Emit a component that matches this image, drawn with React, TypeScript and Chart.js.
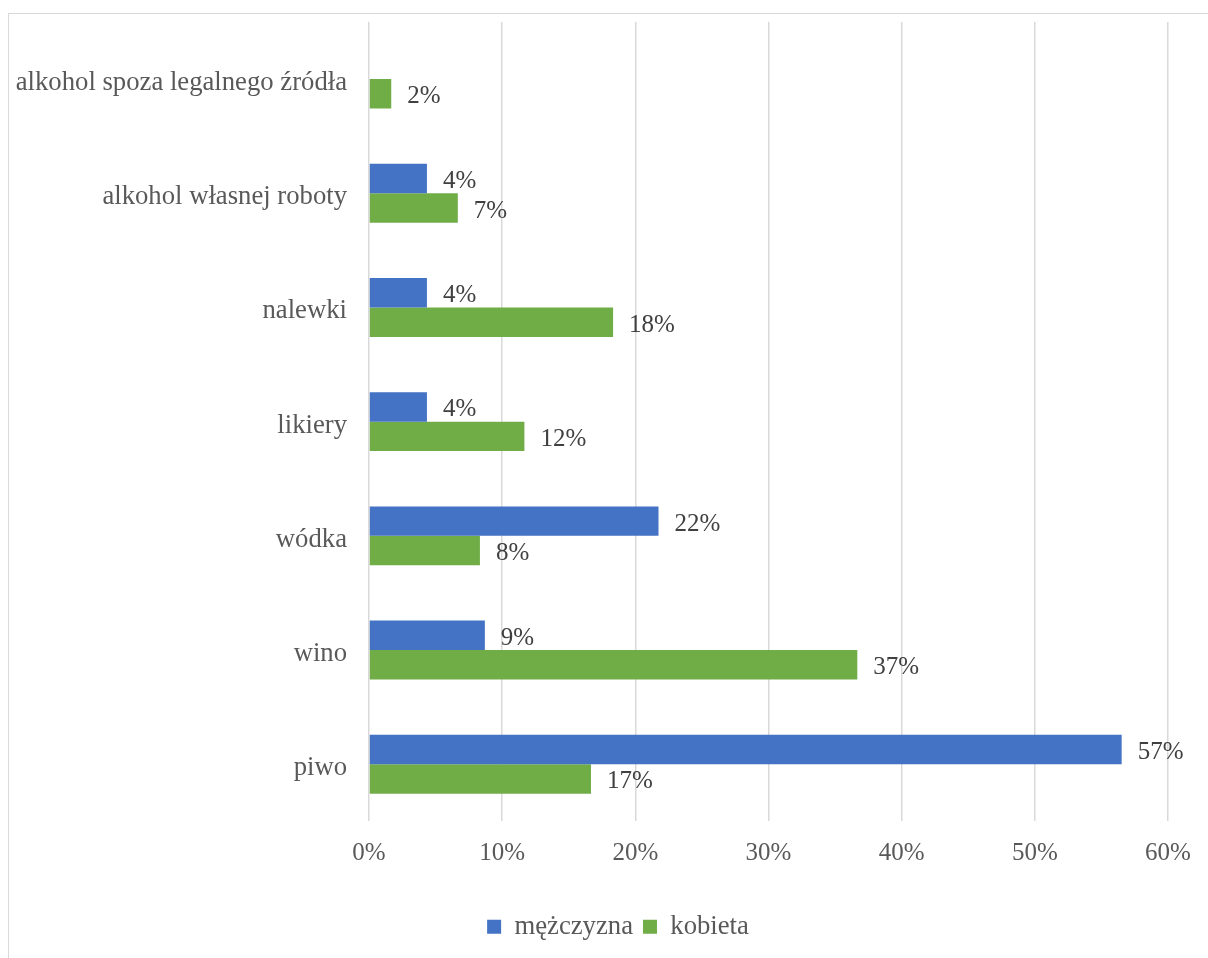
import React, { useEffect, useRef } from "react";
import { Chart, registerables } from "chart.js";

Chart.register(...registerables);

const categories = [
  "alkohol spoza legalnego źródła",
  "alkohol własnej roboty",
  "nalewki",
  "likiery",
  "wódka",
  "wino",
  "piwo",
];
const maleValues: (number | null)[] = [null, 4.35, 4.35, 4.35, 21.74, 8.7, 56.52];
const femaleValues: number[] = [1.67, 6.67, 18.33, 11.67, 8.33, 36.67, 16.67];
const seriesNames = ["mężczyzna", "kobieta"];
const xTicks = [0, 10, 20, 30, 40, 50, 60];

const FONT = "'Liberation Serif', 'Times New Roman', serif";

const dataLabels = {
  id: "dataLabels",
  afterDatasetsDraw(chart: any) {
    const ctx = chart.ctx;
    ctx.save();
    ctx.font = `25px ${FONT}`;
    ctx.fillStyle = "#404040";
    ctx.textAlign = "left";
    ctx.textBaseline = "middle";
    chart.data.datasets.forEach((ds: any, di: number) => {
      const meta = chart.getDatasetMeta(di);
      meta.data.forEach((bar: any, i: number) => {
        const v = ds.data[i];
        if (v === null || v === undefined) return;
        ctx.fillText(Math.round(v) + "%", bar.x + 16, bar.y + 3);
      });
    });
    ctx.restore();
  },
};

// let the long category labels extend into the left padding without clipping
const widenLabelArea = {
  id: "widenLabelArea",
  afterLayout(chart: any) {
    chart.scales.y.left = 0;
  },
};

export default function App() {
  const ref = useRef<HTMLCanvasElement>(null);
  useEffect(() => {
    if (!ref.current) return;
    const chart = new Chart(ref.current, {
      type: "bar",
      data: {
        labels: categories,
        datasets: [
          {
            label: seriesNames[0],
            data: maleValues,
            backgroundColor: "#4472C4",
            barPercentage: 1,
            categoryPercentage: 0.516,
          },
          {
            label: seriesNames[1],
            data: femaleValues,
            backgroundColor: "#70AD47",
            barPercentage: 1,
            categoryPercentage: 0.516,
          },
        ],
      },
      options: {
        indexAxis: "y",
        responsive: false,
        animation: false,
        layout: { padding: { top: 8, right: 40, bottom: 8, left: 59 } },
        scales: {
          x: {
            min: 0,
            max: 60,
            afterBuildTicks: (s: any) => {
              s.ticks = xTicks.map((v) => ({ value: v }));
            },
            afterFit: (s: any) => {
              s.height = 82;
            },
            grid: { color: "#d9d9d9", lineWidth: 1.5, drawTicks: false },
            border: { display: false },
            ticks: {
              padding: 17,
              color: "#595959",
              font: { family: FONT, size: 25 },
              callback: (v: any) => v + "%",
            },
          },
          y: {
            afterFit: (s: any) => {
              s.width = 301;
              s.paddingTop = 0;
              s.paddingBottom = 0;
            },
            grid: { display: false, drawTicks: false },
            border: { display: false },
            ticks: {
              padding: 22,
              labelOffset: 4,
              color: "#595959",
              font: { family: FONT, size: 26.7 },
            },
          },
        },
        plugins: {
          legend: {
            position: "bottom",
            labels: {
              boxWidth: 14,
              boxHeight: 14,
              padding: 10,
              color: "#595959",
              font: { family: FONT, size: 26.7 },
            },
          },
          tooltip: { enabled: false },
        },
      },
      plugins: [dataLabels, widenLabelArea],
    } as any);
    return () => chart.destroy();
  }, []);
  return (
    <div
      style={{
        position: "absolute",
        left: 8,
        top: 13,
        width: 1200,
        height: 945,
        boxSizing: "border-box",
        borderTop: "1px solid #d9d9d9",
        borderLeft: "1px solid #d9d9d9",
        overflow: "hidden",
      }}
    >
      <canvas ref={ref} width={1199} height={944} style={{ display: "block" }} />
    </div>
  );
}
